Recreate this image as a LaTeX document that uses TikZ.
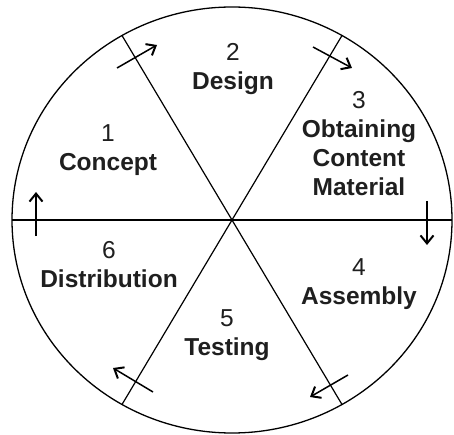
\documentclass[tikz,border=0pt]{standalone}
\usepackage{fontspec}
\setmainfont{Liberation Sans}
\usetikzlibrary{arrows.meta}
\begin{document}
\begin{tikzpicture}[x=1pt,y=-1pt,
  stage/.style={font=\fontsize{24.5}{29}\selectfont\bfseries, align=center, text=black!88, inner sep=0pt},
  flow/.style={line width=1.5pt, -{Straight Barb[length=8pt,width=13pt,line width=2pt]}},
  rim/.style={line width=1.3pt},
  spoke/.style={line width=1.2pt}]
\useasboundingbox (0,0) rectangle (454,435);
\coordinate (c) at (232,220);
\draw[rim] (c) ellipse [x radius=220pt, y radius=213pt];
% spokes
\coordinate (L) at (12,220);
\coordinate (R) at (452,220);
\coordinate (UL) at (122,35.5);
\coordinate (UR) at (342,35.5);
\coordinate (LL) at (122,404.5);
\coordinate (LR) at (342,404.5);
\draw[spoke] (L) -- (R);
\draw[spoke] (UL) -- (LR);
\draw[spoke] (UR) -- (LL);
% labels
\node[stage] (s1) at (108,150) {\textmd{1}\\Concept};
\node[stage] (s2) at (233,69) {\textmd{2}\\Design};
\node[stage] (s3) at (359,144) {\textmd{3}\\Obtaining\\Content\\Material};
\node[stage] (s4) at (359,284) {\textmd{4}\\Assembly};
\node[stage] (s5) at (227,335) {\textmd{5}\\Testing};
\node[stage] (s6) at (109,265) {\textmd{6}\\Distribution};
% arrows
\coordinate (a1s) at (117,68);  \coordinate (a1e) at (157,45);
\coordinate (a2s) at (313,47);  \coordinate (a2e) at (352,68);
\coordinate (a3s) at (427,201); \coordinate (a3e) at (427,245);
\coordinate (a4s) at (348,375); \coordinate (a4e) at (310,397);
\coordinate (a5s) at (153,392); \coordinate (a5e) at (113,368);
\coordinate (a6s) at (36,236);  \coordinate (a6e) at (36,192);
\draw[flow] (a1s) -- (a1e);
\draw[flow] (a2s) -- (a2e);
\draw[flow] (a3s) -- (a3e);
\draw[flow] (a4s) -- (a4e);
\draw[flow] (a5s) -- (a5e);
\draw[flow] (a6s) -- (a6e);
\end{tikzpicture}
\end{document}
